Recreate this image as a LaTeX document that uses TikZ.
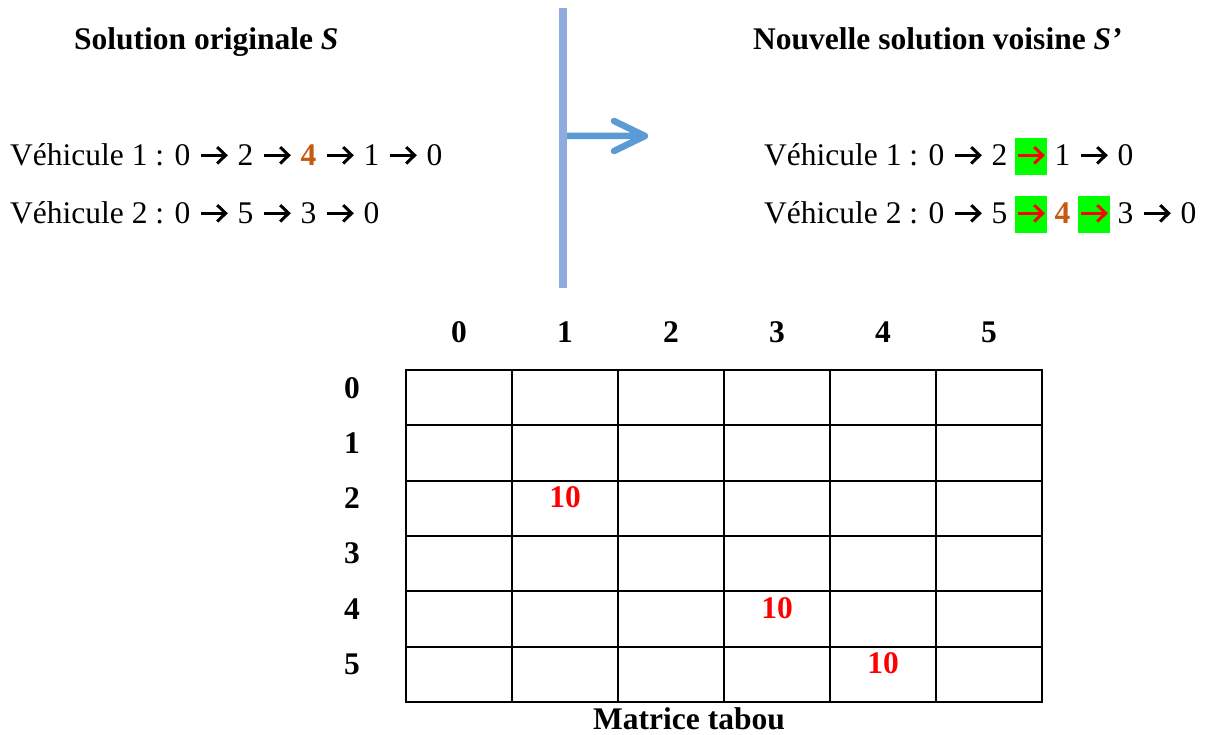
\documentclass[tikz,border=0pt]{standalone}
\usepackage{fontspec}
\setmainfont{Liberation Serif}
\usetikzlibrary{positioning, calc}
\definecolor{tbBleu}{HTML}{8FAADC}
\definecolor{tbFleche}{HTML}{5B9BD5}
\definecolor{tbOrange}{HTML}{C55A11}
\definecolor{tbRouge}{HTML}{FF0000}
\definecolor{tbVert}{HTML}{00FF00}
% flèche du texte (type Wingdings), noire ou rouge sur fond vert
\newcommand{\fl}[1][black]{\tikz[baseline=0pt]{\path (0,-0.28em) rectangle (1em,0.88em);
  \draw[#1, line width=0.095em] (0.1em,0.34em) -- (0.86em,0.34em);
  \draw[#1, line width=0.095em, miter limit=10] (0.6em,0.6em) -- (0.87em,0.34em) -- (0.6em,0.08em);}}
\newcommand{\flv}{\tikz[baseline=0pt]{\fill[tbVert] (0,-0.28em) rectangle (1em,0.88em);
  \draw[tbRouge, line width=0.095em] (0.1em,0.34em) -- (0.86em,0.34em);
  \draw[tbRouge, line width=0.095em, miter limit=10] (0.6em,0.6em) -- (0.87em,0.34em) -- (0.6em,0.08em);}}
\newcommand{\qt}{\textbf{\color{tbOrange}4}}

\begin{document}
\begin{tikzpicture}[x=1pt, y=-1pt,
    texte/.style={inner sep=0pt, font=\fontsize{31.5}{38}\selectfont},
    entete/.style={texte, font=\fontsize{31.5}{38}\selectfont\bfseries, anchor=base},
    tabou/.style={entete, text=tbRouge},
    cellule/.style={line width=2.2pt, line cap=rect}]
  \useasboundingbox (0,0) rectangle (1206,735);
  % titres des deux solutions
  \node[entete, anchor=base west] (titreS) at (74,50) {Solution originale \textit{S}};
  \node[entete, anchor=base west] (titreSp) at (753,50) {Nouvelle solution voisine \textit{S’}};
  % routes des véhicules
  \node[texte, anchor=base west] (v1S) at (10,166) {Véhicule 1 : 0 \fl{} 2 \fl{} \qt{} \fl{} 1 \fl{} 0};
  \node[texte, anchor=base west] (v2S) at (10,224) {Véhicule 2 : 0 \fl{} 5 \fl{} 3 \fl{} 0};
  \node[texte, anchor=base west] (v1Sp) at (764,166) {Véhicule 1 : 0 \fl{} 2 \flv{} 1 \fl{} 0};
  \node[texte, anchor=base west] (v2Sp) at (764,224) {Véhicule 2 : 0 \fl{} 5 \flv{} \qt{} \flv{} 3 \fl{} 0};
  % séparation et flèche de passage S -> S'
  \coordinate (haut) at (563,8);
  \coordinate (bas) at (563,288);
  \coordinate (depart) at (563,136);
  \coordinate (pointe) at (645,136);
  \draw[tbFleche, line width=6.5pt, line cap=round, line join=round]
    (depart) -- (pointe) ($(pointe)+(-31,-15)$) -- (pointe) -- ($(pointe)+(-31,15)$);
  \draw[tbBleu, line width=8pt] (haut) -- (bas);
  % matrice tabou 6x6
  \foreach \c in {0,...,6}{\draw[cellule] (406+106*\c,370) -- (406+106*\c,702);}
  \foreach \r in {0,...,6}{\draw[cellule] (406,370+55.33*\r) -- (1042,370+55.33*\r);}
  \foreach \c in {0,...,5}{\node[entete] (col\c) at (459+106*\c,342) {\c};}
  \foreach \r in {0,...,5}{\node[entete] (lig\r) at (352,398+55.33*\r) {\r};}
  % arcs interdits
  \node[tabou] (t21) at (565,397+55.33*2) {10};
  \node[tabou] (t43) at (777,397+55.33*4) {10};
  \node[tabou] (t54) at (883,397+55.33*5) {10};
  \node[entete] (legende) at (689,729) {Matrice tabou};
\end{tikzpicture}
\end{document}
